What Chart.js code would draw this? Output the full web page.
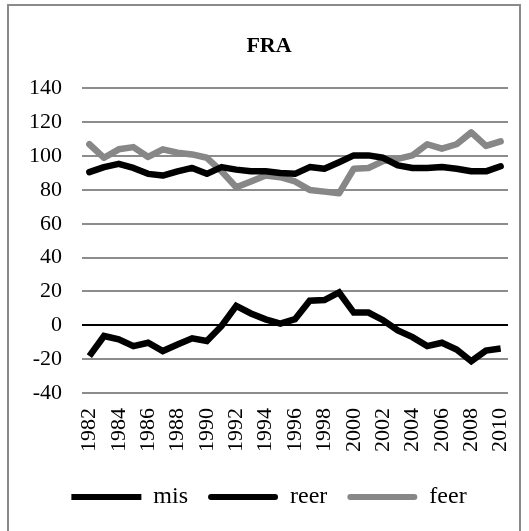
<!DOCTYPE html>
<html>
<head>
<meta charset="utf-8">
<script src="https://cdn.jsdelivr.net/npm/chart.js@4.4.0/dist/chart.umd.min.js"></script>
<style>
    body { margin: 0; background: #fff; }
    #frame { position: absolute; left: 7px; top: 4px; width: 514px; height: 527px; border: 2px solid #8a8a8a; border-bottom: none; box-sizing: border-box; pointer-events: none; }
    #graphe { position: absolute; left: 0; top: 0; }
</style>
</head>
<body>
<canvas id="graphe" width="529" height="531"></canvas>
<div id="frame"></div>
<script>
const annees = ['1982','1983','1984','1985','1986','1987','1988','1989','1990','1991',
    '1992','1993','1994','1995','1996','1997','1998','1999','2000','2001',
    '2002','2003','2004','2005','2006','2007','2008','2009','2010'];

const mis = [-18.2, -6.3, -8.3, -12.3, -10.3, -15.2, -11.3, -7.7, -9.3, -0.4,
    11.5, 7, 3.5, 1, 3.6, 14.5, 14.9, 19.4, 7.5, 7.5,
    3, -3, -7, -12.3, -10.3, -14.3, -21.2, -14.9, -13.7];

const reer = [90.5, 93.5, 95.4, 93, 89.5, 88.5, 91, 93, 89.5, 93.5,
    92, 91, 91, 90, 89.5, 93.5, 92.5, 96.4, 100.4, 100.4,
    99, 94.5, 93, 93, 93.5, 92.5, 91, 91, 94];

const feer = [107, 99, 104, 105.3, 99.5, 104, 102, 101, 99, 91,
    81.6, 85, 88.5, 87.5, 85, 80, 79, 78, 92.5, 93,
    97, 98.4, 100.4, 107, 104.4, 107, 114, 106, 108.7];

const graduations = [-40, -20, 0, 20, 40, 60, 80, 100, 120, 140];

const police = "'Liberation Serif', 'Times New Roman', serif";

let ctx = document.getElementById('graphe').getContext('2d');

let param = {
    labels: annees,
    datasets: [
        {
            label: 'mis',
            data: mis,
            borderColor: '#000000',
            backgroundColor: '#000000',
            borderWidth: 6.5,
            borderCapStyle: 'butt',
            borderJoinStyle: 'miter',
            pointRadius: 0,
            tension: 0
        },
        {
            label: 'reer',
            data: reer,
            borderColor: '#000000',
            backgroundColor: '#000000',
            borderWidth: 6.5,
            borderCapStyle: 'round',
            borderJoinStyle: 'round',
            pointRadius: 0,
            tension: 0
        },
        {
            label: 'feer',
            data: feer,
            borderColor: '#878787',
            backgroundColor: '#878787',
            borderWidth: 6.5,
            borderCapStyle: 'round',
            borderJoinStyle: 'round',
            pointRadius: 0,
            tension: 0
        }
    ]
};

let myChart = new Chart(ctx, {
    type: 'line',
    data: param,
    options: {
        responsive: false,
        animation: false,
        layout: { padding: { left: 30, right: 21, top: 0, bottom: 12 } },
        plugins: {
            title: {
                display: true,
                text: 'FRA',
                color: '#000',
                font: { family: police, size: 22, weight: 'bold' },
                padding: { top: 33, bottom: 29 }
            },
            legend: {
                display: true,
                position: 'bottom',
                labels: {
                    color: '#000',
                    font: { family: police, size: 24 },
                    boxWidth: 70,
                    boxHeight: 6,
                    padding: 20,
                    useBorderRadius: true,
                    generateLabels: function (chart) {
                        let items = Chart.defaults.plugins.legend.labels.generateLabels(chart);
                        items.forEach(function (it, i) {
                            it.lineWidth = 0;
                            it.fillStyle = chart.data.datasets[i].borderColor;
                            it.borderRadius = i === 0 ? 0 : 3;
                        });
                        return items;
                    }
                }
            },
            tooltip: { enabled: false }
        },
        scales: {
            x: {
                offset: true,
                grid: { display: false, drawTicks: false },
                border: { display: false },
                ticks: {
                    autoSkip: false,
                    minRotation: 90,
                    maxRotation: 90,
                    padding: 15,
                    color: '#000',
                    font: { family: police, size: 22 },
                    callback: function (val, index) {
                        return index % 2 === 0 ? this.getLabelForValue(val) : '';
                    }
                },
                afterFit: function (scale) {
                    scale.height = 72;
                    scale.paddingLeft = 0;
                    scale.paddingRight = 0;
                }
            },
            y: {
                min: -40,
                max: 140,
                grid: {
                    drawTicks: false,
                    lineWidth: 2,
                    color: function (c) { return c.tick && c.tick.value === 0 ? '#000000' : '#8c8c8c'; }
                },
                border: { display: false },
                afterBuildTicks: function (scale) {
                    scale.ticks = graduations.map(v => ({ value: v }));
                },
                ticks: {
                    padding: 20,
                    color: '#000',
                    font: { family: police, size: 22 }
                },
                afterFit: function (scale) {
                    scale.width = 52;
                    scale.paddingTop = 0;
                    scale.paddingBottom = 0;
                }
            }
        }
    }
});
</script>
</body>
</html>
